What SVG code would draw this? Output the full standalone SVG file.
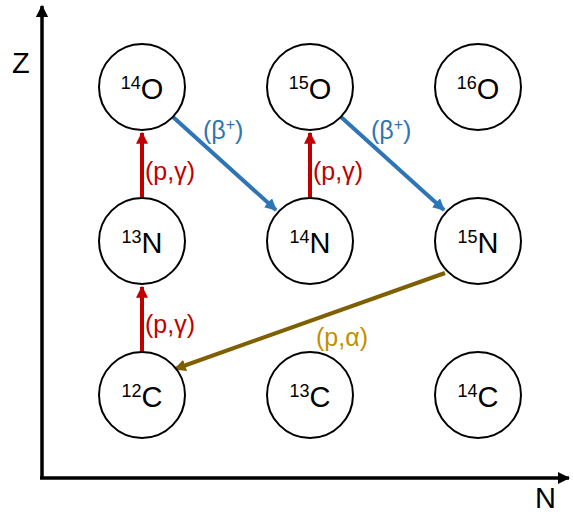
<svg xmlns="http://www.w3.org/2000/svg" width="573" height="514" viewBox="0 0 573 514">
<style>
circle{fill:#fff;stroke:#000;stroke-width:2}
text{font-family:"Liberation Sans","Noto Sans",sans-serif}
.nuc{font-size:29px;text-anchor:middle}
.sup{font-size:18px}
.lab{font-size:25px}
</style>
<defs>
<marker id="ar" viewBox="0 0 10 10" refX="9" refY="5" markerWidth="3" markerHeight="3.2" orient="auto" markerUnits="strokeWidth"><path d="M0,0L10,5L0,10Z" fill="#C00000"/></marker>
<marker id="ab" viewBox="0 0 10 10" refX="9" refY="5" markerWidth="3" markerHeight="3.2" orient="auto" markerUnits="strokeWidth"><path d="M0,0L10,5L0,10Z" fill="#2E75B6"/></marker>
<marker id="ao" viewBox="0 0 10 10" refX="9" refY="5" markerWidth="3" markerHeight="3.2" orient="auto" markerUnits="strokeWidth"><path d="M0,0L10,5L0,10Z" fill="#7F6000"/></marker>
<marker id="ak" viewBox="0 0 10 10" refX="9" refY="5" markerWidth="3.5" markerHeight="4" orient="auto" markerUnits="strokeWidth"><path d="M0,0L10,5L0,10Z" fill="#000"/></marker>
</defs>
<g id="axes">
<line x1="42" y1="478" x2="42" y2="6" stroke="#000" stroke-width="3.5" marker-end="url(#ak)"/>
<line x1="40" y1="478" x2="569" y2="478" stroke="#000" stroke-width="3.5" marker-end="url(#ak)"/>
<text x="12" y="73" font-size="29">Z</text>
<text x="535" y="508" font-size="29">N</text>
</g>
<g id="connectors">
<line x1="142" y1="198" x2="142" y2="133" stroke="#C00000" stroke-width="4" marker-end="url(#ar)"/>
<line x1="310" y1="198" x2="310" y2="133" stroke="#C00000" stroke-width="4" marker-end="url(#ar)"/>
<line x1="142" y1="352" x2="142" y2="287" stroke="#C00000" stroke-width="4" marker-end="url(#ar)"/>
<line x1="173" y1="117" x2="276" y2="210" stroke="#2E75B6" stroke-width="4" marker-end="url(#ab)"/>
<line x1="341" y1="117" x2="444" y2="210" stroke="#2E75B6" stroke-width="4" marker-end="url(#ab)"/>
<line x1="445" y1="273" x2="175" y2="369" stroke="#7F6000" stroke-width="4" marker-end="url(#ao)"/>
<text class="lab" x="145" y="180" fill="#C00000">(p,γ)</text>
<text class="lab" x="313" y="180" fill="#C00000">(p,γ)</text>
<text class="lab" x="145" y="333" fill="#C00000">(p,γ)</text>
<text class="lab" x="203" y="139" fill="#2E75B6">(β<tspan dy="-9" font-size="16">+</tspan><tspan dy="9">)</tspan></text>
<text class="lab" x="371" y="139" fill="#2E75B6">(β<tspan dy="-9" font-size="16">+</tspan><tspan dy="9">)</tspan></text>
<text class="lab" x="316" y="346" fill="#BF9000">(p,α)</text>
</g>
<g id="n14O"><circle cx="142" cy="87" r="43"/><text class="nuc" x="142" y="99"><tspan class="sup" dy="-10">14</tspan><tspan dy="10">O</tspan></text></g>
<g id="n15O"><circle cx="310" cy="87" r="43"/><text class="nuc" x="310" y="99"><tspan class="sup" dy="-10">15</tspan><tspan dy="10">O</tspan></text></g>
<g id="n16O"><circle cx="478" cy="87" r="43"/><text class="nuc" x="478" y="99"><tspan class="sup" dy="-10">16</tspan><tspan dy="10">O</tspan></text></g>
<g id="n13N"><circle cx="142" cy="241" r="43"/><text class="nuc" x="142" y="253"><tspan class="sup" dy="-10">13</tspan><tspan dy="10">N</tspan></text></g>
<g id="n14N"><circle cx="310" cy="241" r="43"/><text class="nuc" x="310" y="253"><tspan class="sup" dy="-10">14</tspan><tspan dy="10">N</tspan></text></g>
<g id="n15N"><circle cx="478" cy="241" r="43"/><text class="nuc" x="478" y="253"><tspan class="sup" dy="-10">15</tspan><tspan dy="10">N</tspan></text></g>
<g id="n12C"><circle cx="142" cy="395" r="43"/><text class="nuc" x="142" y="407"><tspan class="sup" dy="-10">12</tspan><tspan dy="10">C</tspan></text></g>
<g id="n13C"><circle cx="310" cy="395" r="43"/><text class="nuc" x="310" y="407"><tspan class="sup" dy="-10">13</tspan><tspan dy="10">C</tspan></text></g>
<g id="n14C"><circle cx="478" cy="395" r="43"/><text class="nuc" x="478" y="407"><tspan class="sup" dy="-10">14</tspan><tspan dy="10">C</tspan></text></g>
</svg>
